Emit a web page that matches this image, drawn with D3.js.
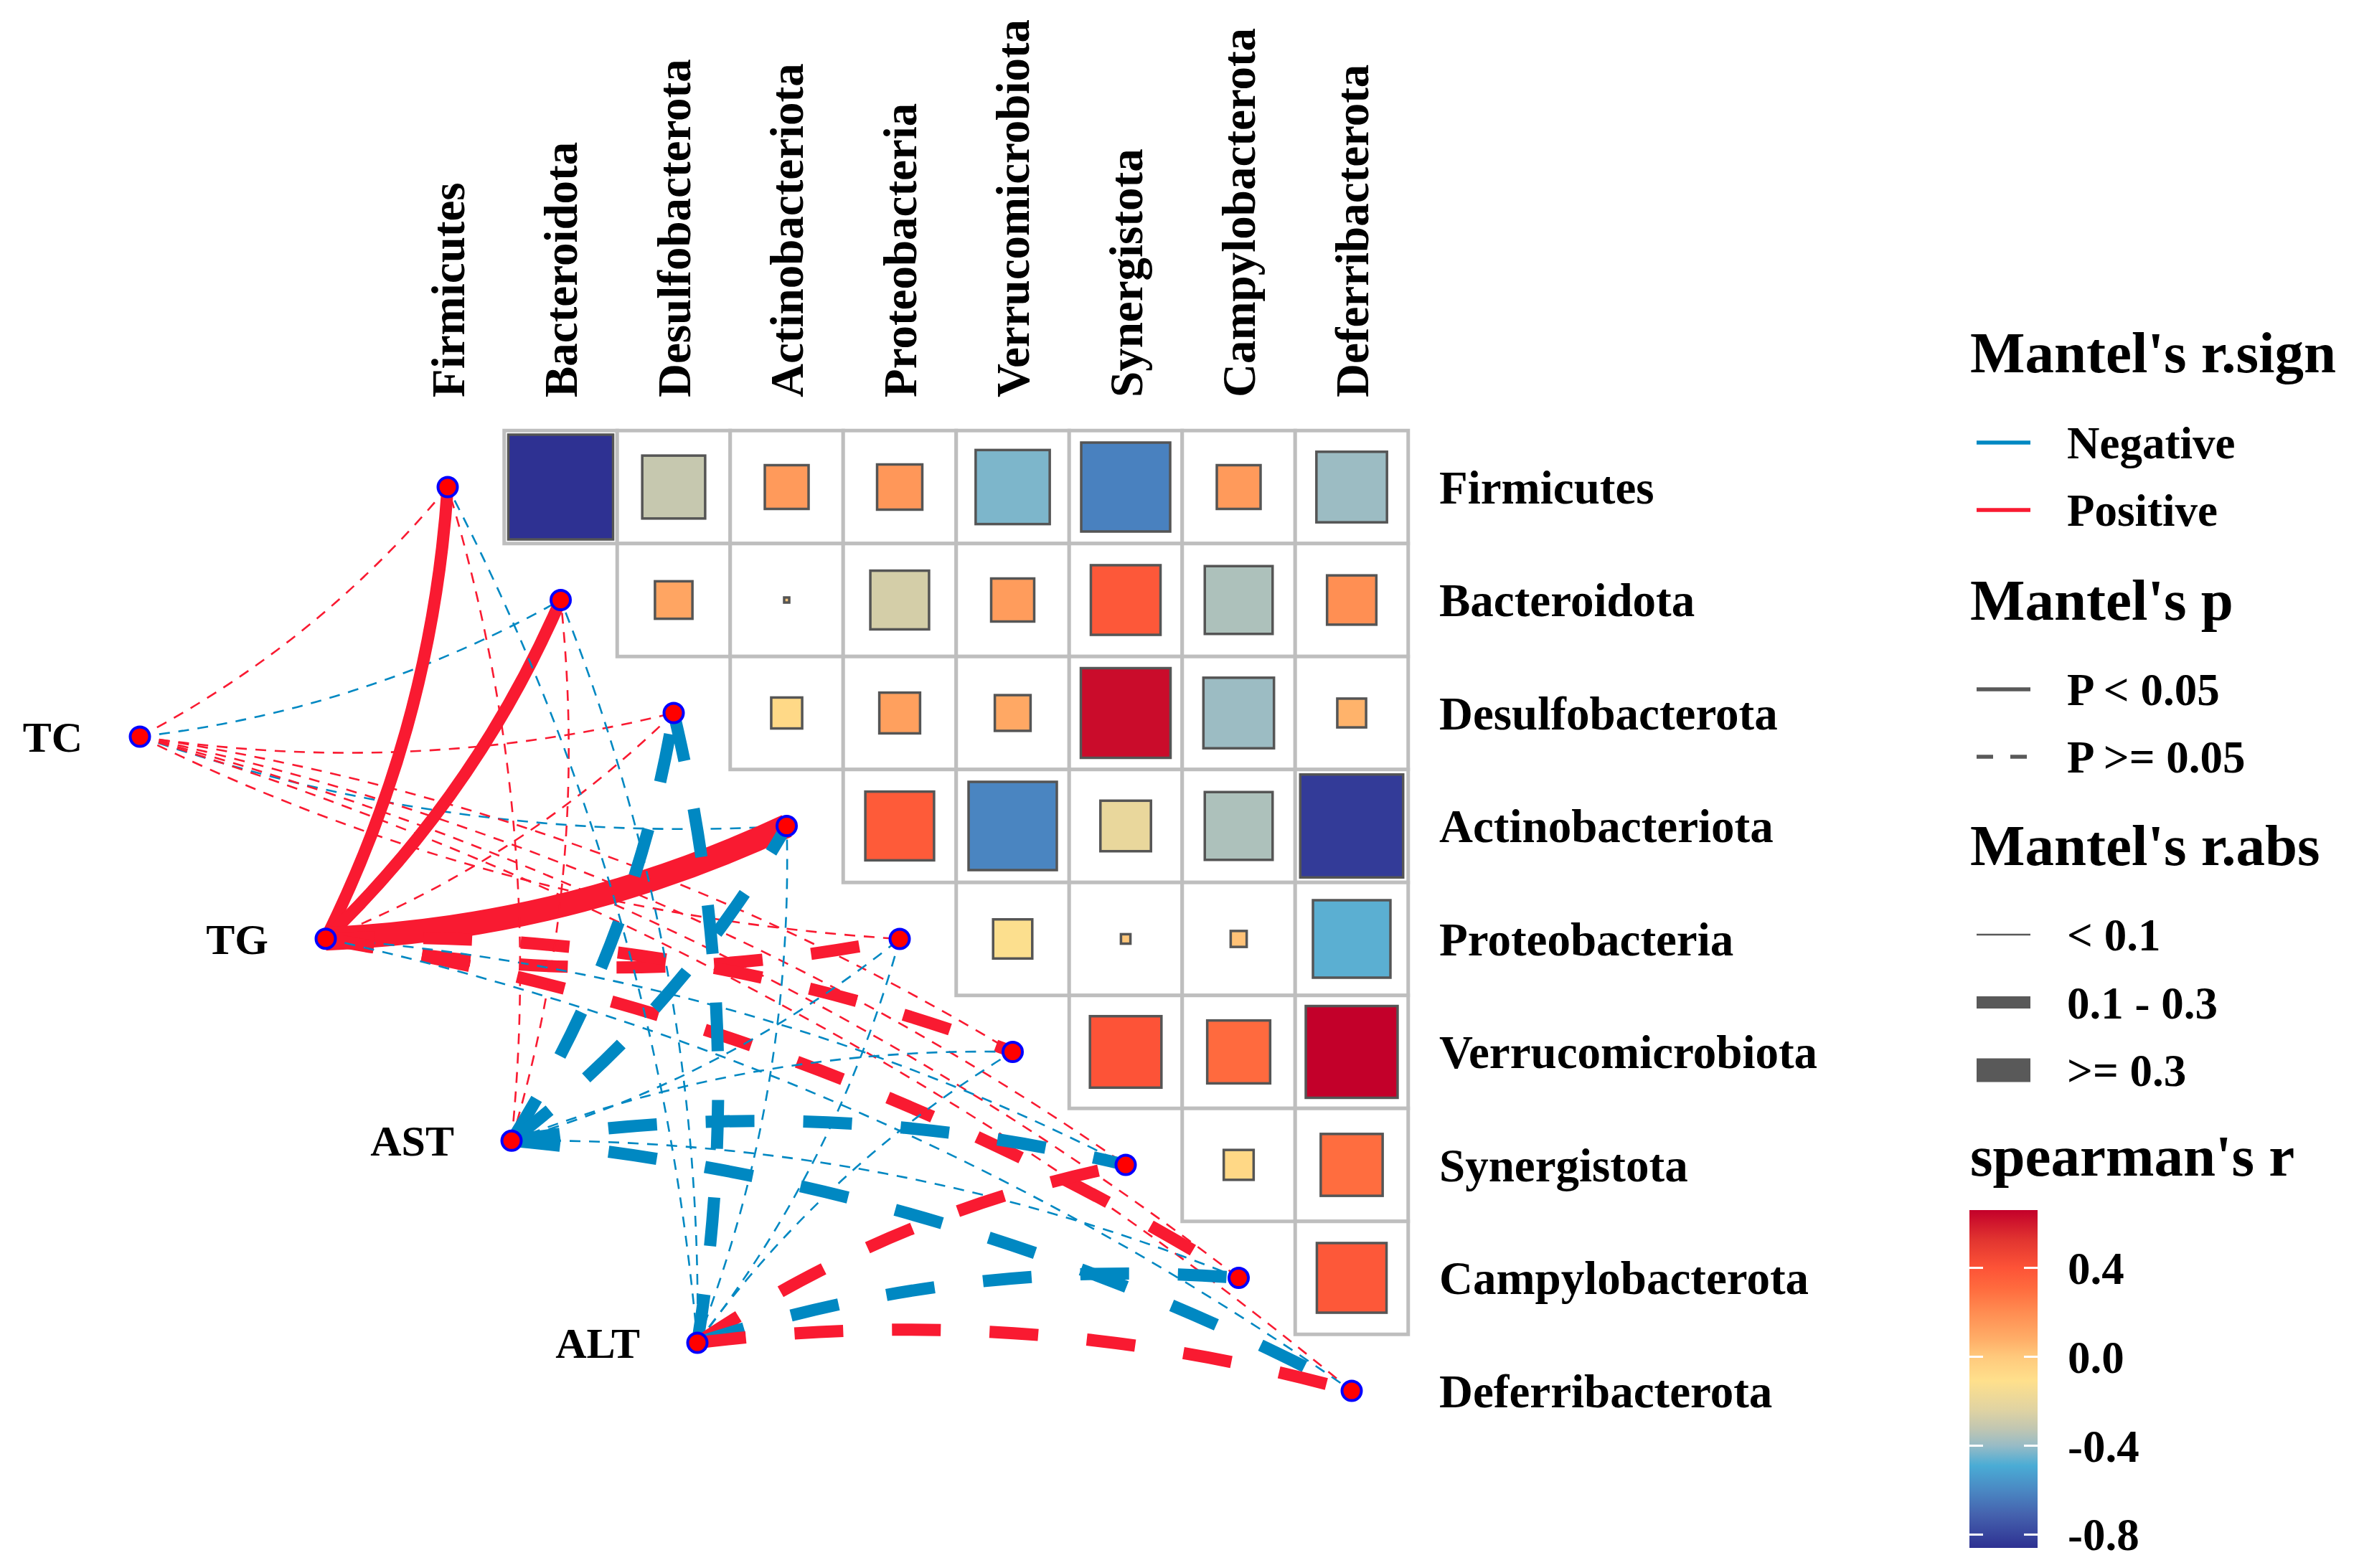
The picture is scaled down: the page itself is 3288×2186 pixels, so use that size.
<!DOCTYPE html>
<html><head><meta charset="utf-8">
<script src="https://cdn.jsdelivr.net/npm/d3@7"></script>
<style>
html,body{margin:0;padding:0;background:#fff;}
svg{display:block;}
text{font-family:"Liberation Serif","Times New Roman",serif;font-weight:bold;fill:#000;}
</style>
</head><body>
<svg id="chart" width="3288" height="2186"></svg>
<script>
// ---------------- DATA ----------------
const phyla = ["Firmicutes","Bacteroidota","Desulfobacterota","Actinobacteriota","Proteobacteria","Verrucomicrobiota","Synergistota","Campylobacterota","Deferribacterota"];
// Spearman r, upper triangle: row i holds columns i+1 .. 8
const corrFirmicutes        = [-0.86, -0.31, 0.15, 0.16, -0.43, -0.62, 0.15, -0.39];
const corrBacteroidota      = [0.11, 0.002, -0.27, 0.145, 0.38, -0.36, 0.19];
const corrDesulfobacterota  = [-0.075, 0.13, 0.10, 0.63, -0.39, 0.065];
const corrActinobacteriota  = [0.37, -0.61, -0.20, -0.36, -0.83];
const corrProteobacteria    = [-0.12, 0.007, 0.02, -0.47];
const corrVerrucomicrobiota = [0.40, 0.31, 0.66];
const corrSynergistota      = [-0.07, 0.30];
const corrCampylobacterota  = [0.38];
const corrRows = [corrFirmicutes, corrBacteroidota, corrDesulfobacterota, corrActinobacteriota,
                  corrProteobacteria, corrVerrucomicrobiota, corrSynergistota, corrCampylobacterota, []];

const envs = ["TC","TG","AST","ALT"];
// Mantel r (signed) and p for each env against the 9 phyla
const mantelR_TC  = [0.06, -0.04, 0.05, -0.07, 0.08, 0.05, 0.07, 0.06, 0.04];
const mantelP_TC  = [0.21, 0.38, 0.27, 0.18, 0.15, 0.33, 0.22, 0.29, 0.41];
const mantelR_TG  = [0.22, 0.27, 0.08, 0.36, 0.18, 0.15, -0.05, 0.12, -0.06];
const mantelP_TG  = [0.011, 0.004, 0.16, 0.001, 0.07, 0.09, 0.31, 0.11, 0.26];
const mantelR_AST = [0.03, 0.05, -0.17, -0.14, -0.06, -0.04, -0.19, -0.08, -0.13];
const mantelP_AST = [0.44, 0.36, 0.09, 0.12, 0.28, 0.39, 0.07, 0.24, 0.14];
const mantelR_ALT = [-0.05, -0.07, -0.16, -0.04, -0.06, -0.08, 0.12, -0.15, 0.18];
const mantelP_ALT = [0.35, 0.29, 0.10, 0.41, 0.32, 0.27, 0.13, 0.08, 0.06];
const mantelR = [mantelR_TC, mantelR_TG, mantelR_AST, mantelR_ALT];
const mantelP = [mantelP_TC, mantelP_TG, mantelP_AST, mantelP_ALT];

const colorTicks = [-0.8, -0.4, 0.0, 0.4];
const colorTickLabels = ["-0.8", "-0.4", "0.0", "0.4"];
const signLabels = ["Negative","Positive"];
const pLabels = ["P < 0.05","P >= 0.05"];
const absLabels = ["< 0.1","0.1 - 0.3",">= 0.3"];
const absBreaks = [0.1, 0.3];

// colour palette of the fill scale (value stops)
const paletteValues = [-0.86,-0.71,-0.60,-0.49,-0.40,-0.325,-0.238,-0.107,0.0,0.078,0.198,0.307,0.40,0.525,0.66];
const paletteColors = ["#2E3192","#4562AE","#4A88C3","#4AACD5","#97BBC6","#C0C6B2","#E0D3A2","#FFE08C",
                       "#FFC97C","#FFAE68","#FF8D52","#FF6B3E","#FD5337","#E23530","#C3002A"];

// ---------------- BUILD ----------------
const svg = d3.select("#chart");
svg.append("rect").attr("width",3288).attr("height",2186).attr("fill","#fff");

const x = d3.scalePoint().domain(phyla).range([624, 1884]);
const y = d3.scalePoint().domain(phyla).range([679, 1939]);
const cell = x.step();

const cells = [];
corrRows.forEach((row, i) => row.forEach((r, k) => {
  const j = i + 1 + k;
  cells.push({row: phyla[i], col: phyla[j], r});
}));
const allR = cells.map(d => d.r);
const rExt = d3.extent(allR);

const fill = d3.scaleLinear().domain(paletteValues).range(paletteColors)
  .interpolate(d3.interpolateRgb).clamp(true);
const side = d3.scaleSqrt().domain([0, 1]).range([0, cell]);

const gGrid = svg.append("g");
gGrid.selectAll("rect").data(cells).join("rect")
  .attr("x", d => x(d.col) - cell/2).attr("y", d => y(d.row) - cell/2)
  .attr("width", cell).attr("height", cell)
  .attr("fill", "#fff").attr("stroke", "#BEBEBE").attr("stroke-width", 5);

const gSq = svg.append("g");
gSq.selectAll("rect").data(cells).join("rect")
  .attr("x", d => x(d.col) - side(Math.abs(d.r))/2)
  .attr("y", d => y(d.row) - side(Math.abs(d.r))/2)
  .attr("width", d => side(Math.abs(d.r)))
  .attr("height", d => side(Math.abs(d.r)))
  .attr("fill", d => fill(d.r))
  .attr("stroke", "#555555").attr("stroke-width", 3.5);

// row labels
svg.append("g").selectAll("text").data(phyla).join("text")
  .attr("x", 2006).attr("y", d => y(d)).attr("dy", "0.35em")
  .attr("font-size", 65).text(d => d);
// column labels
svg.append("g").selectAll("text").data(phyla).join("text")
  .attr("transform", d => `translate(${x(d)},554) rotate(-90)`)
  .attr("dy", "0.35em").attr("font-size", 65).text(d => d);

// env nodes
const ex = d3.scalePoint().domain(envs).range([195, 972]);
const ey = d3.scalePoint().domain(envs).range([1027, 1872]);

const posCol = "#F91A31", negCol = "#0088C2";
const widthOf = a => a < absBreaks[0] ? 2.6 : (a < absBreaks[1] ? 17 : 33);

const links = [];
envs.forEach((e, ei) => phyla.forEach((p, k) => {
  links.push({env: e, phy: p, k, r: mantelR[ei][k], p: mantelP[ei][k]});
}));

const mid = (phyla.length - 1) / 2;
function curvePath(d) {
  const x1 = ex(d.env), y1 = ey(d.env), x2 = x(d.phy), y2 = y(d.phy);
  const dx = x2 - x1, dy = y2 - y1;
  const s = d.k <= mid ? 1 : -1;
  const c = 0.1 * s;
  const cx = (x1 + x2)/2 - dy * c, cy = (y1 + y2)/2 + dx * c;
  return `M${x1},${y1}Q${cx},${cy} ${x2},${y2}`;
}

const gLinks = svg.append("g");
gLinks.selectAll("path").data(links).join("path")
  .attr("d", curvePath)
  .attr("fill", "none")
  .attr("stroke", d => d.r >= 0 ? posCol : negCol)
  .attr("stroke-width", d => widthOf(Math.abs(d.r)))
  .attr("stroke-dasharray", d => {
    if (d.p < 0.05) return null;
    const w = widthOf(Math.abs(d.r));
    return w < 3 ? "15,12" : `${4*w},${4*w}`;
  })
  .attr("stroke-linecap", "butt");

// nodes
const nodeStyle = sel => sel.attr("r", 13.5).attr("fill", "#FF0000").attr("stroke", "#0000FF").attr("stroke-width", 4);
svg.append("g").selectAll("circle").data(phyla).join("circle")
  .attr("cx", d => x(d)).attr("cy", d => y(d)).call(nodeStyle);
svg.append("g").selectAll("circle").data(envs).join("circle")
  .attr("cx", d => ex(d)).attr("cy", d => ey(d)).call(nodeStyle);
svg.append("g").selectAll("text").data(envs).join("text")
  .attr("x", d => ex(d) - 80).attr("y", d => ey(d)).attr("dy", "0.35em")
  .attr("text-anchor", "end").attr("font-size", 60).text(d => d);

// ---------------- LEGEND ----------------
const lg = svg.append("g");
const LX = 2746, KX1 = 2755, KX2 = 2830, TX = 2881;
const title = (t, yb) => lg.append("text").attr("x", LX).attr("y", yb).attr("font-size", 81).text(t);
const item = (t, yl) => lg.append("text").attr("x", TX).attr("y", yl + 22).attr("font-size", 63).text(t);
const key = (yl, col, w, dash) => lg.append("line").attr("x1", KX1).attr("x2", KX2).attr("y1", yl).attr("y2", yl)
  .attr("stroke", col).attr("stroke-width", w).attr("stroke-dasharray", dash || null);

title("Mantel's r.sign", 519);
[negCol, posCol].forEach((c, i) => { const yl = 617 + i*94; key(yl, c, 5.6); item(signLabels[i], yl); });
title("Mantel's p", 864);
[null, "23,24"].forEach((da, i) => { const yl = 961 + i*94; key(yl, "#595959", 5.6, da); item(pLabels[i], yl); });
title("Mantel's r.abs", 1206);
[0.05, 0.2, 0.4].forEach((a, i) => { const yl = 1303 + i*94.5; key(yl, "#595959", widthOf(a)); item(absLabels[i], yl); });
title("spearman's r", 1639);

// colour bar
const barTop = 1687, barBot = 2158, BX = 2745, BW = 95;
const by = d3.scaleLinear().domain(rExt).range([barBot, barTop]);
const defs = svg.append("defs");
const grad = defs.append("linearGradient").attr("id", "cbar")
  .attr("x1", 0).attr("y1", 1).attr("x2", 0).attr("y2", 0);
paletteValues.forEach((v, i) => {
  const off = (v - rExt[0]) / (rExt[1] - rExt[0]);
  grad.append("stop").attr("offset", Math.max(0, Math.min(1, off))).attr("stop-color", paletteColors[i]);
});
lg.append("rect").attr("x", BX).attr("y", barTop).attr("width", BW).attr("height", barBot - barTop)
  .attr("fill", "url(#cbar)");
colorTicks.forEach((t, i) => {
  const ty = by(t);
  lg.append("line").attr("x1", BX).attr("x2", BX + 19).attr("y1", ty).attr("y2", ty).attr("stroke", "#fff").attr("stroke-width", 3);
  lg.append("line").attr("x1", BX + BW - 19).attr("x2", BX + BW).attr("y1", ty).attr("y2", ty).attr("stroke", "#fff").attr("stroke-width", 3);
  lg.append("text").attr("x", 2882).attr("y", ty).attr("dy", "0.35em").attr("font-size", 63).text(colorTickLabels[i]);
});
</script>
</body></html>
